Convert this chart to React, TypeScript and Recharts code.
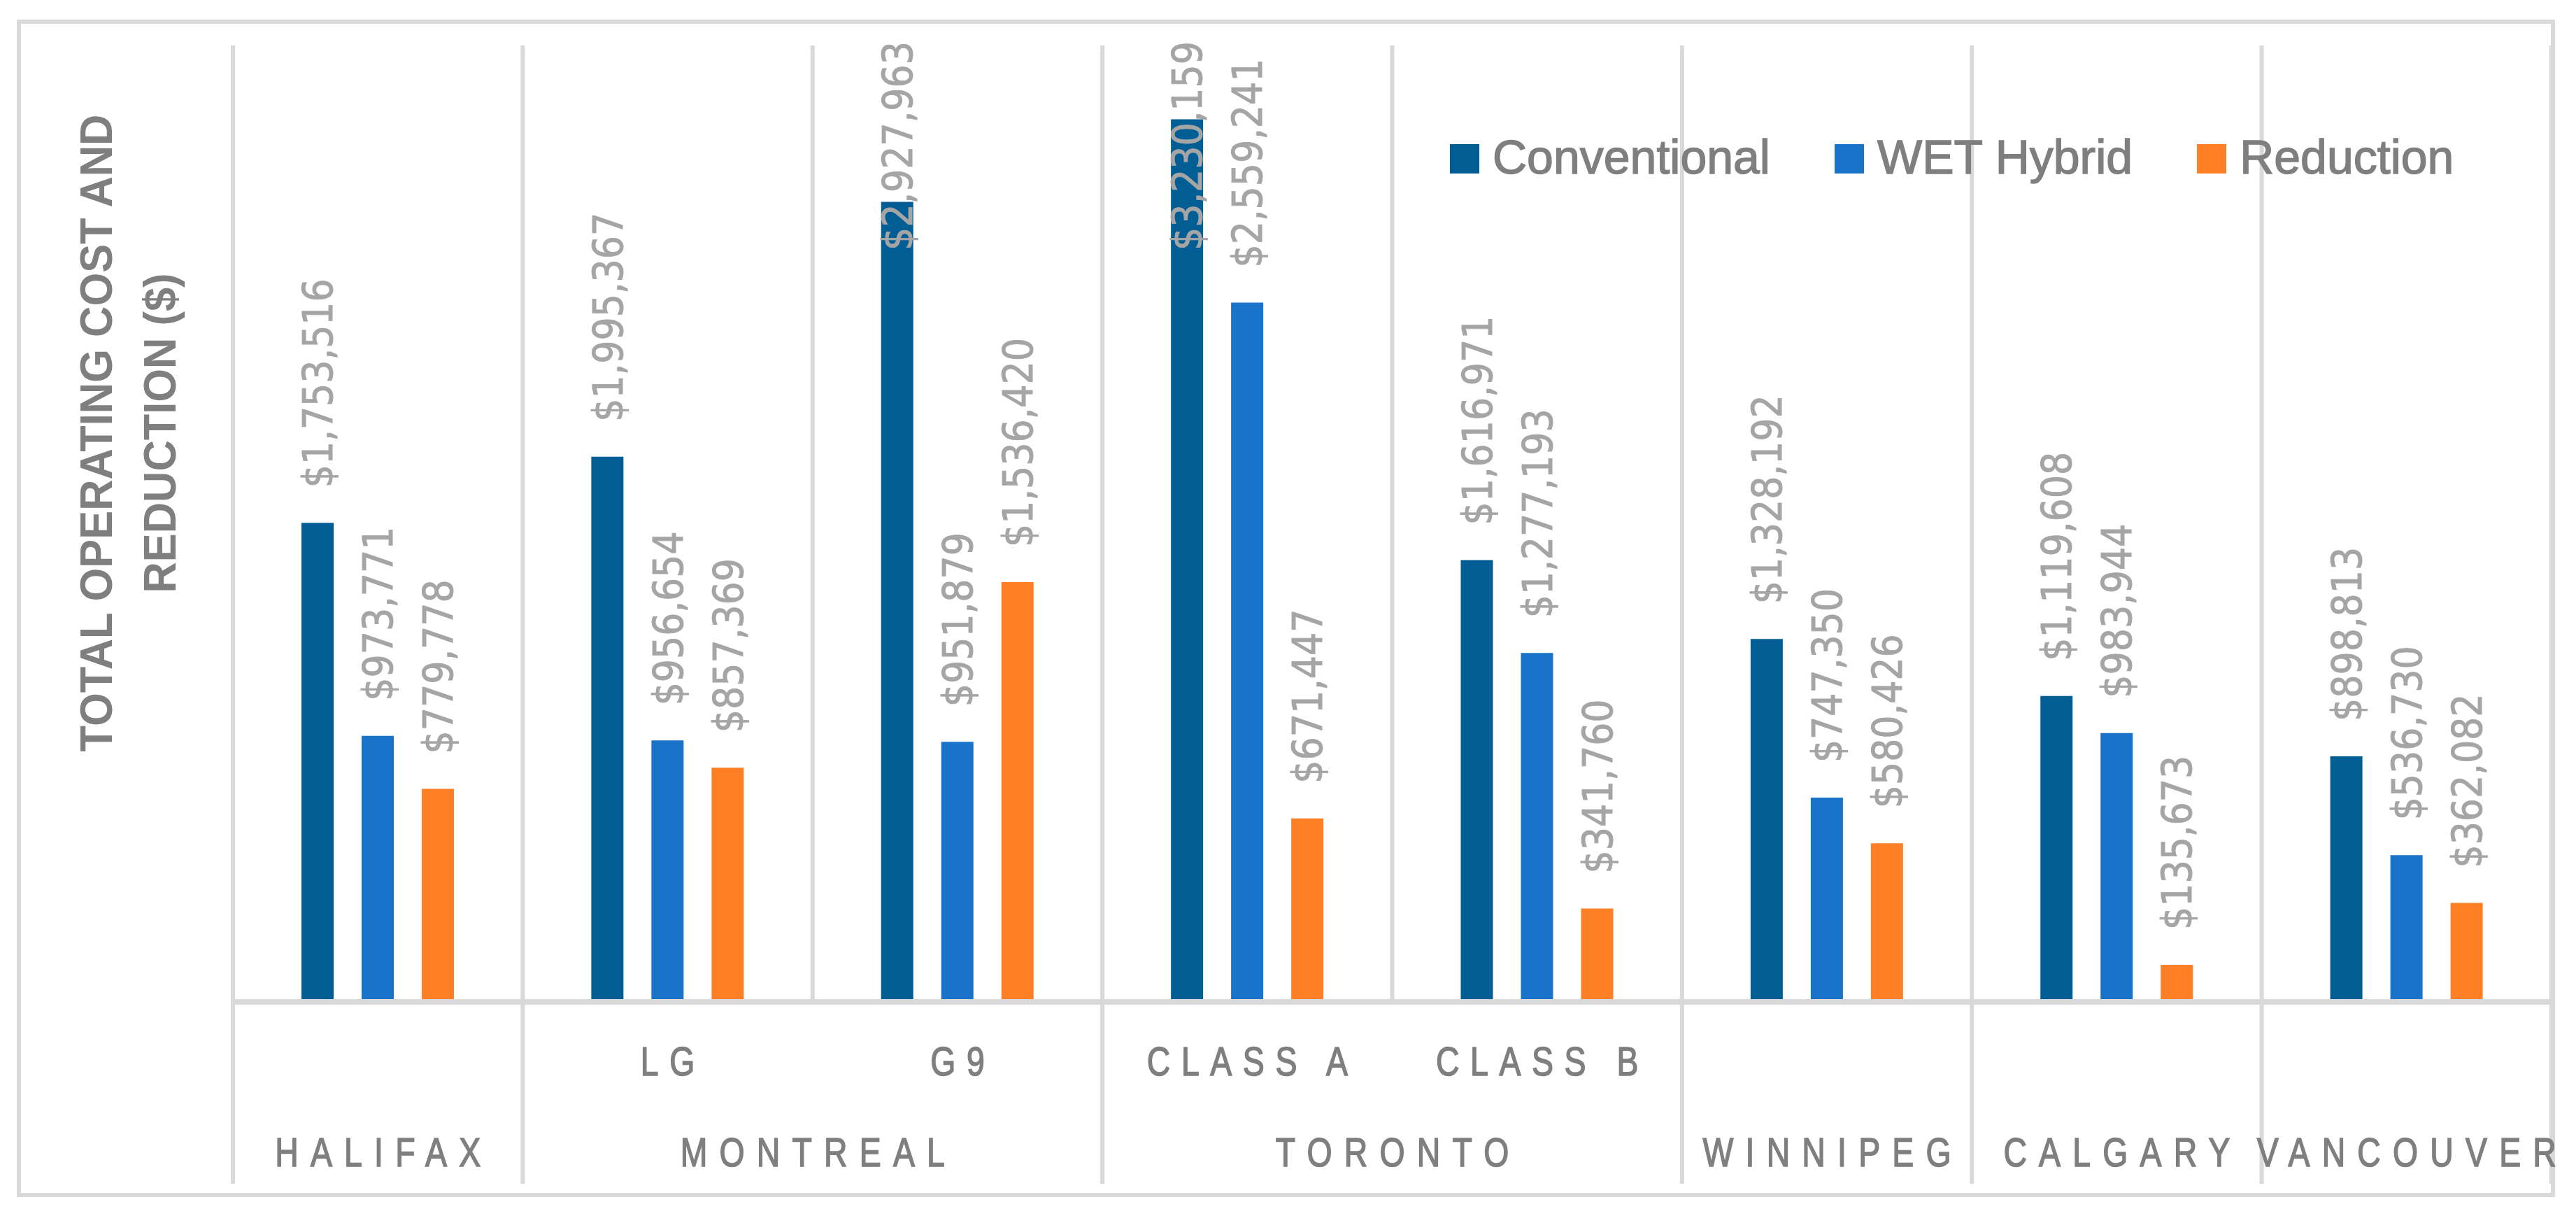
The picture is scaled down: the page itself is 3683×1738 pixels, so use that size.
import React from 'react';
import { BarChart, Bar, XAxis, YAxis, Legend, LabelList } from 'recharts';

// categories (two-level axis: city / building)
const groups = ['HALIFAX', 'MONTREAL', 'MONTREAL', 'TORONTO', 'TORONTO', 'WINNIPEG', 'CALGARY', 'VANCOUVER'];
const subLabels = ['', 'LG', 'G9', 'CLASS A', 'CLASS B', '', '', ''];

// series values ($)
const conventional = [1753516, 1995367, 2927963, 3230159, 1616971, 1328192, 1119608, 898813];
const wetHybrid = [973771, 956654, 951879, 2559241, 1277193, 747350, 983944, 536730];
const reduction = [779778, 857369, 1536420, 671447, 341760, 580426, 135673, 362082];
const seriesNames = ['Conventional', 'WET Hybrid', 'Reduction'];

const yMax = 3500000;

const W = 3683;
const H = 1738;
const PLOT_TOP = 65;
const PLOT_BOTTOM = 1432;
const PLOT_LEFT = 333;
const PLOT_RIGHT = 3648;
const GRID = '#d9d9d9';
const TEXT = '#7f7f7f';
const LABEL = '#a5a5a5';
const COLORS = ['#005e94', '#1873c9', '#ff7f27'];

const data = groups.map((g, i) => ({
  key: `${g} ${subLabels[i]}`.trim(),
  conventional: conventional[i],
  wet: wetHybrid[i],
  reduction: reduction[i],
}));

const fmt = (v: number) => '$' + v.toLocaleString('en-US');

// data labels: DejaVu Sans, squeezed a little along the text direction
const LABEL_SIZE = 59;
const LABEL_SQUEEZE = 0.885;
const LABEL_TOP = 59;
const labelLength = (s: string) =>
  s.split('').reduce((a, c) => a + (c === ',' ? 0.318 : 0.636), 0) * LABEL_SIZE * LABEL_SQUEEZE;

const BarValue = (props: any) => {
  const { x, y, width, value } = props;
  const text = fmt(Number(value));
  const cx = Number(x) + Number(width) / 2;
  const start = Number(y) - 50;
  const clamp = start - labelLength(text) < LABEL_TOP;
  const ay = clamp ? LABEL_TOP : start;
  return (
    <text
      x={0}
      y={0}
      dy="0.36em"
      transform={`translate(${cx} ${ay}) rotate(-90) scale(${LABEL_SQUEEZE} 1)`}
      textAnchor={clamp ? 'end' : 'start'}
      fill={LABEL}
      stroke={LABEL}
      strokeWidth={1}
      fontSize={LABEL_SIZE}
      fontFamily="DejaVu Sans"
    >
      {text}
    </text>
  );
};

// axis labels: narrowed, letter-spaced
const CAT_SIZE = 58;
const CAT_SQUEEZE = 0.8;

const CatText = ({ x, y, ls, children }: any) => (
  <text
    x={0}
    y={0}
    dx={ls / 2}
    transform={`translate(${x} ${y}) scale(${CAT_SQUEEZE} 1)`}
    textAnchor="middle"
    fill={TEXT}
    stroke={TEXT}
    strokeWidth={1.6}
    fontSize={CAT_SIZE}
    fontFamily="Liberation Sans"
    letterSpacing={ls}
  >
    {children}
  </text>
);

const CategoryTick = (props: any) => {
  const { x, payload } = props;
  const i = payload.index;
  const n = groups.length;
  const off = payload.offset || (PLOT_RIGHT - PLOT_LEFT) / n / 2;
  const left = x - off;
  const right = x + off;
  const isGroupStart = i === 0 || groups[i - 1] !== groups[i];
  let span = 1;
  while (i + span < n && groups[i + span] === groups[i]) span++;
  const last = i === n - 1;
  return (
    <g>
      <line x1={left} x2={left} y1={PLOT_TOP} y2={PLOT_BOTTOM} stroke={GRID} strokeWidth={6} />
      {last && <line x1={right} x2={right} y1={PLOT_TOP} y2={PLOT_BOTTOM} stroke={GRID} strokeWidth={6} />}
      {isGroupStart && <line x1={left} x2={left} y1={PLOT_BOTTOM} y2={1692} stroke={GRID} strokeWidth={6} />}
      {last && <line x1={right} x2={right} y1={PLOT_BOTTOM} y2={1692} stroke={GRID} strokeWidth={6} />}
      {subLabels[i] && (
        <CatText x={x} y={1537} ls={19.5}>
          {subLabels[i]}
        </CatText>
      )}
      {isGroupStart && (
        <CatText x={left + span * off} y={1667} ls={21.5}>
          {groups[i]}
        </CatText>
      )}
    </g>
  );
};

const AxisTitle = () => (
  <g fill={TEXT} fontFamily="Liberation Sans" fontWeight="bold" fontSize={65}>
    <text x={0} y={0} transform="translate(160 619) rotate(-90) scale(0.945 1)" textAnchor="middle">
      TOTAL OPERATING COST AND
    </text>
    <text x={0} y={0} transform="translate(251 619) rotate(-90) scale(0.945 1)" textAnchor="middle">
      REDUCTION ($)
    </text>
  </g>
);

const LegendContent = () => (
  <div
    style={{
      whiteSpace: 'nowrap', fontFamily: 'Liberation Sans', fontSize: 68, lineHeight: '68px',
      color: TEXT, WebkitTextStroke: `1.4px ${TEXT}`,
    }}
  >
    {seriesNames.map((name, i) => (
      <span key={name} style={{ marginRight: 92 }}>
        <span
          style={{
            display: 'inline-block', width: 42, height: 42, background: COLORS[i],
            marginRight: 19, verticalAlign: 'baseline',
          }}
        />
        {name}
      </span>
    ))}
  </div>
);

export default function App() {
  return (
    <div style={{ position: 'absolute', left: 0, top: 0, width: W, height: H, background: '#fff' }}>
      <div
        style={{
          position: 'absolute', left: 24, top: 28, width: 3629, height: 1683,
          border: `6px solid ${GRID}`, boxSizing: 'border-box',
        }}
      />
      <BarChart
        width={W}
        height={H}
        data={data}
        margin={{ top: PLOT_TOP, right: W - PLOT_RIGHT, bottom: 0, left: 0 }}
        barGap={40}
        barSize={46}
      >
        <XAxis
          dataKey="key"
          height={H - PLOT_BOTTOM}
          interval={0}
          tickLine={false}
          axisLine={{ stroke: GRID, strokeWidth: 8 }}
          tick={(p: any) => <CategoryTick {...p} />}
        />
        <YAxis width={PLOT_LEFT} domain={[0, yMax]} tick={false} axisLine={false} tickLine={false} label={<AxisTitle />} />
        <Legend
          layout="horizontal"
          verticalAlign="middle"
          align="center"
          wrapperStyle={{ left: 2073, top: 190, width: 1560, height: 80 }}
          content={LegendContent}
        />
        <Bar dataKey="conventional" name={seriesNames[0]} fill={COLORS[0]} isAnimationActive={false}>
          <LabelList dataKey="conventional" content={BarValue} />
        </Bar>
        <Bar dataKey="wet" name={seriesNames[1]} fill={COLORS[1]} isAnimationActive={false}>
          <LabelList dataKey="wet" content={BarValue} />
        </Bar>
        <Bar dataKey="reduction" name={seriesNames[2]} fill={COLORS[2]} isAnimationActive={false}>
          <LabelList dataKey="reduction" content={BarValue} />
        </Bar>
      </BarChart>
    </div>
  );
}
